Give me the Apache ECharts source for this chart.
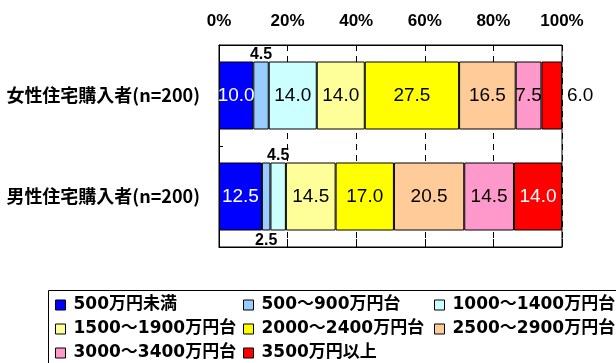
<!DOCTYPE html>
<html lang="ja">
<head>
    <meta charset="UTF-8">
    <title>住宅購入者 年収分布</title>
    <style>
        html, body { margin: 0; padding: 0; background: #fff; }
        #chart { width: 616px; height: 363px; }
    </style>
    <script src="https://cdn.jsdelivr.net/npm/echarts@6/dist/echarts.min.js"></script>
</head>
<body>
    <div id="chart"></div>
    <script>
        // データ
        var categories = ['女性住宅購入者(n=200)', '男性住宅購入者(n=200)'];
        var seriesNames = ['500万円未満', '500～900万円台', '1000～1400万円台', '1500～1900万円台',
                           '2000～2400万円台', '2500～2900万円台', '3000～3400万円台', '3500万円以上'];
        var female = [10.0, 4.5, 14.0, 14.0, 27.5, 16.5, 7.5, 6.0];
        var male = [12.5, 2.5, 4.5, 14.5, 17.0, 20.5, 14.5, 14.0];
        var xTicks = [0, 20, 40, 60, 80, 100];

        var colors = ['#0000FF', '#99CCFF', '#CCFFFF', '#FFFF99', '#FFFF00', '#FFCC99', '#FF99CC', '#FF0000'];

        // ラベル位置（外側に出すもの）
        var femalePos = { 1: 'top', 7: 'right' };
        var malePos = { 1: 'bottom', 2: 'top' };
        var whiteFemale = { 0: true };
        var whiteMale = { 0: true, 7: true };

        function item(v, pos, white) {
            var lab = { color: white ? '#fff' : '#000' };
            if (pos) {
                lab.position = pos;
                lab.color = '#000';
                if (pos === 'right') {
                    lab.distance = 5;
                } else {
                    lab.fontSize = 16;
                    lab.fontWeight = 'bold';
                    lab.distance = pos === 'bottom' ? 2 : -1;
                }
            }
            return { value: v, label: lab };
        }

        var series = seriesNames.map(function (name, i) {
            return {
                name: name,
                type: 'bar',
                stack: 'total',
                barWidth: 68,
                itemStyle: { color: colors[i], borderColor: '#000', borderWidth: 1 },
                label: {
                    show: true,
                    position: 'inside',
                    fontFamily: 'Liberation Sans',
                    fontSize: 19,
                    formatter: function (p) { return p.value.toFixed(1); }
                },
                data: [item(female[i], femalePos[i], whiteFemale[i]), item(male[i], malePos[i], whiteMale[i])]
            };
        });

        var legendFont = { fontFamily: "'DejaVu Sans', 'Noto Sans CJK JP'", fontWeight: 'bold', fontSize: 17, lineHeight: 18, color: '#000', padding: [0, 0, 0, 3] };
        function legendCol(idx, left) {
            return {
                orient: 'vertical',
                left: left,
                top: 296,
                padding: 0,
                itemGap: 6,
                icon: 'rect',
                itemWidth: 10,
                itemHeight: 10,
                selectedMode: false,
                itemStyle: { borderColor: '#000', borderWidth: 1 },
                textStyle: legendFont,
                data: idx.map(function (k) { return seriesNames[k]; })
            };
        }

        var chart = echarts.init(document.getElementById('chart'));
        var option = {
            animation: false,
            backgroundColor: '#fff',
            grid: { left: 219, right: 54, top: 45, bottom: 116, show: true, borderColor: '#000', borderWidth: 1, backgroundColor: 'transparent' },
            legend: [legendCol([0, 3, 6], 55), legendCol([1, 4, 7], 243), legendCol([2, 5], 434)],
            xAxis: [
                {
                    type: 'value', position: 'top', min: xTicks[0], max: xTicks[xTicks.length - 1], interval: 20,
                    axisLine: { show: true, lineStyle: { color: '#000' } },
                    axisTick: { show: true, inside: true, length: 6, lineStyle: { color: '#000' } },
                    axisLabel: { formatter: '{value}%', fontFamily: 'Liberation Sans', fontWeight: 'bold', fontSize: 17, color: '#000', margin: 15 },
                    splitLine: { show: true, lineStyle: { color: '#000', type: [6, 5] } }
                },
                {
                    type: 'value', position: 'bottom', min: xTicks[0], max: xTicks[xTicks.length - 1], interval: 20,
                    axisLine: { show: true, lineStyle: { color: '#000' } },
                    axisTick: { show: true, inside: true, length: 8, lineStyle: { color: '#000' } },
                    axisLabel: { show: false },
                    splitLine: { show: false }
                }
            ],
            yAxis: {
                type: 'category', inverse: true, data: categories,
                axisLine: { show: true, lineStyle: { color: '#000' } },
                axisTick: { show: true, inside: true, length: 4, lineStyle: { color: '#000' } },
                axisLabel: { fontFamily: 'Noto Sans CJK JP', fontWeight: 'bold', fontSize: 18, color: '#000', margin: 19 }
            },
            graphic: [{
                type: 'rect', left: 46, top: 288, shape: { width: 620, height: 100 },
                style: { fill: 'none', stroke: '#000', lineWidth: 1 }, z: 100
            }],
            series: series
        };
        chart.setOption(option);
    </script>
</body>
</html>
